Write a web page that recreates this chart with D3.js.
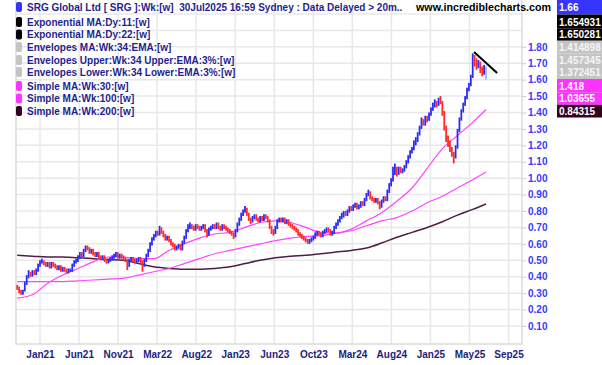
<!DOCTYPE html>
<html>
<head>
<meta charset="utf-8">
<script src="https://cdnjs.cloudflare.com/ajax/libs/d3/7.8.5/d3.min.js"></script>
<style>
  body { margin: 0; background: #fff; }
  svg { display: block; font-family: "Liberation Sans", Arial, sans-serif; font-weight: bold; }
</style>
</head>
<body>
<div id="chart"></div>
<script>
// svg container
var svgWidth = 602;
var svgHeight = 365;

// plot edges
var plotLeft = 16;
var plotRight = 522;
var plotBottom = 344;

// weekly bars, first bar is week of 2 Nov 2020
var firstWeek = "2020-11-02";
var priorClose = 0.34;

var weekClose = [
  0.33, 0.31, 0.30, 0.31, 0.36, 0.40, 0.42, 0.41, 0.43, 0.42,
  0.44, 0.47, 0.49, 0.50, 0.48, 0.47, 0.48, 0.46, 0.48, 0.47,
  0.46, 0.45, 0.46, 0.44, 0.45, 0.44, 0.43, 0.44, 0.44, 0.47,
  0.49, 0.50, 0.52, 0.54, 0.53, 0.56, 0.58, 0.57, 0.55, 0.56,
  0.54, 0.53, 0.54, 0.52, 0.51, 0.52, 0.50, 0.49, 0.50, 0.51,
  0.52, 0.53, 0.54, 0.52, 0.53, 0.52, 0.51, 0.50, 0.47, 0.50,
  0.51, 0.50, 0.49, 0.50, 0.51, 0.49, 0.47, 0.50, 0.53, 0.56,
  0.60, 0.63, 0.65, 0.67, 0.66, 0.69, 0.67, 0.65, 0.63, 0.64,
  0.62, 0.60, 0.59, 0.57, 0.58, 0.59, 0.57, 0.61, 0.64, 0.68,
  0.70, 0.71, 0.70, 0.69, 0.71, 0.70, 0.69, 0.70, 0.71, 0.68,
  0.66, 0.69, 0.70, 0.71, 0.70, 0.72, 0.70, 0.69, 0.71, 0.70,
  0.69, 0.68, 0.67, 0.66, 0.65, 0.68, 0.72, 0.75, 0.78, 0.80,
  0.81, 0.78, 0.75, 0.74, 0.76, 0.77, 0.75, 0.74, 0.76, 0.75,
  0.77, 0.76, 0.74, 0.70, 0.68, 0.67, 0.70, 0.74, 0.75, 0.74,
  0.75, 0.73, 0.74, 0.72, 0.71, 0.70, 0.69, 0.68, 0.66, 0.65,
  0.64, 0.63, 0.62, 0.61, 0.62, 0.63, 0.64, 0.66, 0.67, 0.66,
  0.65, 0.67, 0.68, 0.69, 0.68, 0.66, 0.67, 0.70, 0.72, 0.74,
  0.76, 0.77, 0.79, 0.78, 0.80, 0.82, 0.81, 0.83, 0.84, 0.82,
  0.83, 0.85, 0.84, 0.87, 0.90, 0.91, 0.88, 0.87, 0.86, 0.87,
  0.85, 0.83, 0.86, 0.88, 0.87, 0.92, 0.96, 0.99, 1.04, 1.06,
  1.03, 1.06, 1.04, 1.05, 1.07, 1.10, 1.13, 1.16, 1.18, 1.21,
  1.23, 1.27, 1.31, 1.35, 1.33, 1.37, 1.36, 1.39, 1.42, 1.44,
  1.46, 1.45, 1.48, 1.47, 1.40, 1.31, 1.24, 1.22, 1.18, 1.15,
  1.13, 1.19, 1.29, 1.36, 1.41, 1.45, 1.49, 1.54, 1.57, 1.62,
  1.73, 1.72, 1.69, 1.71, 1.67, 1.65, 1.68, 1.66
];

var weekHigh = [
  0.35, 0.34, 0.32, 0.32, 0.37, 0.41, 0.44, 0.43, 0.44, 0.44,
  0.45, 0.48, 0.50, 0.51, 0.50, 0.49, 0.49, 0.49, 0.49, 0.49,
  0.48, 0.47, 0.47, 0.47, 0.46, 0.46, 0.45, 0.45, 0.45, 0.48,
  0.50, 0.51, 0.53, 0.55, 0.55, 0.57, 0.59, 0.59, 0.58, 0.57,
  0.57, 0.55, 0.55, 0.55, 0.53, 0.53, 0.53, 0.51, 0.51, 0.52,
  0.53, 0.54, 0.55, 0.55, 0.54, 0.54, 0.53, 0.52, 0.51, 0.51,
  0.52, 0.52, 0.51, 0.51, 0.52, 0.52, 0.50, 0.51, 0.54, 0.57,
  0.61, 0.64, 0.66, 0.68, 0.68, 0.71, 0.70, 0.68, 0.66, 0.65,
  0.65, 0.63, 0.61, 0.60, 0.59, 0.60, 0.60, 0.62, 0.65, 0.69,
  0.72, 0.73, 0.72, 0.71, 0.72, 0.72, 0.71, 0.71, 0.72, 0.72,
  0.69, 0.70, 0.71, 0.72, 0.72, 0.73, 0.73, 0.71, 0.72, 0.72,
  0.71, 0.70, 0.69, 0.68, 0.67, 0.69, 0.73, 0.76, 0.79, 0.81,
  0.83, 0.82, 0.79, 0.76, 0.77, 0.78, 0.78, 0.76, 0.77, 0.77,
  0.78, 0.78, 0.77, 0.75, 0.71, 0.69, 0.71, 0.75, 0.76, 0.76,
  0.76, 0.76, 0.75, 0.75, 0.73, 0.72, 0.71, 0.70, 0.69, 0.67,
  0.66, 0.65, 0.64, 0.63, 0.63, 0.64, 0.65, 0.67, 0.68, 0.68,
  0.67, 0.68, 0.69, 0.70, 0.70, 0.69, 0.68, 0.71, 0.73, 0.75,
  0.77, 0.79, 0.80, 0.80, 0.81, 0.83, 0.83, 0.84, 0.85, 0.85,
  0.84, 0.86, 0.86, 0.88, 0.91, 0.93, 0.92, 0.89, 0.88, 0.88,
  0.88, 0.86, 0.87, 0.89, 0.89, 0.93, 0.97, 1.00, 1.07, 1.09,
  1.07, 1.07, 1.07, 1.06, 1.08, 1.11, 1.14, 1.17, 1.19, 1.23,
  1.25, 1.28, 1.32, 1.37, 1.36, 1.38, 1.38, 1.40, 1.43, 1.46,
  1.48, 1.47, 1.49, 1.50, 1.47, 1.41, 1.32, 1.26, 1.23, 1.19,
  1.16, 1.20, 1.30, 1.37, 1.42, 1.46, 1.50, 1.55, 1.58, 1.63,
  1.76, 1.75, 1.73, 1.72, 1.71, 1.68, 1.69, 1.68
];

var weekLow = [
  0.32, 0.30, 0.29, 0.29, 0.31, 0.35, 0.39, 0.40, 0.40, 0.41,
  0.41, 0.43, 0.46, 0.48, 0.47, 0.46, 0.46, 0.45, 0.45, 0.46,
  0.45, 0.44, 0.44, 0.43, 0.43, 0.43, 0.42, 0.42, 0.43, 0.43,
  0.46, 0.48, 0.49, 0.51, 0.52, 0.52, 0.55, 0.56, 0.54, 0.54,
  0.53, 0.52, 0.52, 0.51, 0.50, 0.50, 0.49, 0.48, 0.48, 0.49,
  0.50, 0.51, 0.52, 0.51, 0.51, 0.51, 0.50, 0.49, 0.44, 0.46,
  0.49, 0.49, 0.48, 0.48, 0.49, 0.48, 0.43, 0.46, 0.49, 0.52,
  0.55, 0.59, 0.62, 0.64, 0.65, 0.65, 0.66, 0.64, 0.62, 0.62,
  0.61, 0.59, 0.58, 0.56, 0.56, 0.57, 0.56, 0.56, 0.60, 0.63,
  0.67, 0.69, 0.69, 0.68, 0.68, 0.69, 0.68, 0.68, 0.69, 0.67,
  0.64, 0.65, 0.68, 0.69, 0.69, 0.69, 0.69, 0.68, 0.68, 0.69,
  0.68, 0.67, 0.66, 0.65, 0.63, 0.64, 0.67, 0.71, 0.74, 0.77,
  0.79, 0.77, 0.74, 0.72, 0.73, 0.75, 0.74, 0.73, 0.73, 0.74,
  0.74, 0.75, 0.73, 0.69, 0.66, 0.65, 0.66, 0.69, 0.73, 0.73,
  0.73, 0.72, 0.72, 0.71, 0.70, 0.69, 0.68, 0.67, 0.65, 0.64,
  0.63, 0.62, 0.61, 0.60, 0.60, 0.61, 0.62, 0.63, 0.65, 0.65,
  0.64, 0.64, 0.66, 0.67, 0.67, 0.65, 0.65, 0.66, 0.69, 0.71,
  0.73, 0.75, 0.76, 0.77, 0.77, 0.79, 0.80, 0.80, 0.82, 0.81,
  0.81, 0.82, 0.83, 0.83, 0.86, 0.89, 0.87, 0.86, 0.85, 0.85,
  0.84, 0.81, 0.82, 0.85, 0.86, 0.86, 0.91, 0.95, 0.98, 1.02,
  1.01, 1.02, 1.03, 1.03, 1.04, 1.06, 1.09, 1.12, 1.15, 1.17,
  1.20, 1.22, 1.26, 1.30, 1.32, 1.32, 1.34, 1.35, 1.38, 1.41,
  1.43, 1.43, 1.44, 1.45, 1.38, 1.29, 1.22, 1.19, 1.16, 1.13,
  1.09, 1.12, 1.18, 1.28, 1.35, 1.40, 1.44, 1.48, 1.53, 1.56,
  1.61, 1.68, 1.66, 1.67, 1.64, 1.62, 1.63, 1.60
];

// moving averages (bar number, value)
var maWeek = [0, 8, 16, 24, 32, 40, 48, 56, 64, 72, 80, 88, 96, 104, 112, 120,
  128, 136, 144, 152, 160, 168, 176, 184, 192, 200, 208, 216, 224, 232, 240, 247];
var sma30 = [0.27, 0.29, 0.36, 0.41, 0.45, 0.49, 0.52, 0.52, 0.51, 0.51, 0.56, 0.60,
  0.635, 0.66, 0.67, 0.70, 0.73, 0.74, 0.73, 0.70, 0.67, 0.665, 0.69, 0.74, 0.79,
  0.86, 0.94, 1.06, 1.18, 1.26, 1.34, 1.418];
var sma100 = [0.37, 0.37, 0.37, 0.37, 0.375, 0.38, 0.385, 0.39, 0.41, 0.43, 0.45, 0.48,
  0.51, 0.54, 0.56, 0.58, 0.60, 0.62, 0.635, 0.645, 0.65, 0.665, 0.68, 0.71, 0.74,
  0.76, 0.80, 0.85, 0.89, 0.94, 0.99, 1.037];
var sma200 = [0.53, 0.525, 0.52, 0.52, 0.515, 0.51, 0.505, 0.50, 0.48, 0.46, 0.45, 0.445,
  0.445, 0.45, 0.46, 0.48, 0.50, 0.515, 0.525, 0.53, 0.54, 0.55, 0.56, 0.575, 0.605,
  0.64, 0.67, 0.70, 0.735, 0.775, 0.81, 0.843];

// hand drawn trend line
var trendDates = ["2025-06-14", "2025-09-07"];
var trendValues = [1.769, 1.641];

// axis ticks
var xTickDates = ["2021-01-25", "2021-06-18", "2021-11-09", "2022-04-02", "2022-08-24",
  "2023-01-15", "2023-06-08", "2023-10-30", "2024-03-22", "2024-08-13",
  "2025-01-04", "2025-05-28", "2025-10-19"];
var xTickLabels = ["Jan21", "Jun21", "Nov21", "Mar22", "Aug22", "Jan23", "Jun23",
  "Oct23", "Mar24", "Aug24", "Jan25", "May25", "Sep25"];
var yTickValues = [0.1, 0.2, 0.3, 0.4, 0.5, 0.6, 0.7, 0.8, 0.9, 1.0,
  1.1, 1.2, 1.3, 1.4, 1.5, 1.6, 1.7, 1.8];
var yGridValues = yTickValues.concat([1.9, 2.0]);

// legend rows
var legendNames = [
  "SRG Global Ltd [ SRG ]:Wk:[w]  30Jul2025 16:59 Sydney : Data Delayed > 20m..",
  "Exponential MA:Dy:11:[w]",
  "Exponential MA:Dy:22:[w]",
  "Envelopes MA:Wk:34:EMA:[w]",
  "Envelopes Upper:Wk:34 Upper:EMA:3%:[w]",
  "Envelopes Lower:Wk:34 Lower:EMA:3%:[w]",
  "Simple MA:Wk:30:[w]",
  "Simple MA:Wk:100:[w]",
  "Simple MA:Wk:200:[w]"
];
var legendValues = ["1.66", "1.654931", "1.650281", "1.414898", "1.457345",
  "1.372451", "1.418", "1.03655", "0.84315"];
var legendColors = ["#3535ff", "#000000", "#000000", "#c4c4c4", "#c4c4c4",
  "#c4c4c4", "#ff33ff", "#ff33ff", "#33001f"];

var parseDate = d3.timeParse("%Y-%m-%d");
var week0 = parseDate(firstWeek);
function weekDate(i) {
  return d3.timeDay.offset(week0, i * 7);
}

// scales
var xScale = d3.scaleTime()
  .domain([parseDate("2021-01-25"), parseDate("2025-07-28")])
  .range([40, 486]);

var yScale = d3.scaleLinear()
  .domain([0, 1.8])
  .range([342.4, 46.8]);

var svg = d3.select("#chart")
  .append("svg")
  .attr("width", svgWidth)
  .attr("height", svgHeight);

// grid
var grid = svg.append("g");
grid.selectAll("line.h")
  .data(yGridValues)
  .enter()
  .append("line")
  .attr("class", "h")
  .attr("x1", plotLeft).attr("x2", plotRight)
  .attr("y1", d => yScale(d)).attr("y2", d => yScale(d))
  .attr("stroke", "#e8e8e8").attr("stroke-width", 1.5);

grid.selectAll("line.v")
  .data(xTickDates)
  .enter()
  .append("line")
  .attr("class", "v")
  .attr("x1", d => xScale(parseDate(d))).attr("x2", d => xScale(parseDate(d)))
  .attr("y1", 0).attr("y2", plotBottom)
  .attr("stroke", "#e8e8e8").attr("stroke-width", 1.5);

// plot border
grid.append("path")
  .attr("d", `M${plotLeft},0V${plotBottom}H${plotRight}V0`)
  .attr("fill", "none")
  .attr("stroke", "#dcdcdc")
  .attr("stroke-width", 1.5);

// y axis on the right
var rightAxis = d3.axisRight(yScale)
  .tickValues(yTickValues)
  .tickFormat(d3.format(".2f"))
  .tickSize(4)
  .tickPadding(2);

var yAxis = svg.append("g")
  .attr("transform", `translate(${plotRight}, 0)`)
  .call(rightAxis);
yAxis.select(".domain").remove();
yAxis.selectAll("line").attr("stroke", "#cccccc");
yAxis.selectAll("text")
  .attr("fill", "#3a3aff")
  .style("font-size", "10px")
  .style("font-family", "'Liberation Sans', Arial, sans-serif");

// x axis
var bottomAxis = d3.axisBottom(xScale)
  .tickValues(xTickDates.map(parseDate))
  .tickFormat((d, i) => xTickLabels[i])
  .tickSize(0)
  .tickPadding(7);

var xAxis = svg.append("g")
  .attr("transform", `translate(0, ${plotBottom})`)
  .call(bottomAxis);
xAxis.select(".domain").remove();
xAxis.selectAll("text")
  .attr("fill", "#1d1d80")
  .style("font-size", "10px")
  .style("font-family", "'Liberation Sans', Arial, sans-serif");

// moving average lines
var maLine = d3.line()
  .x(d => xScale(weekDate(d[0])))
  .y(d => yScale(d[1]))
  .curve(d3.curveMonotoneX);

function drawMA(values, color, width) {
  svg.append("path")
    .datum(maWeek.map((w, i) => [w, values[i]]))
    .attr("d", maLine)
    .attr("fill", "none")
    .attr("stroke", color)
    .attr("stroke-width", width);
}
drawMA(sma200, "#4f1d45", 1.5);
drawMA(sma100, "#ff44ff", 1.2);
drawMA(sma30, "#ff44ff", 1.2);

// weekly bars
var bars = weekClose.map((c, i) => ({
  date: weekDate(i),
  high: weekHigh[i],
  low: weekLow[i],
  close: c,
  prev: i === 0 ? priorClose : weekClose[i - 1],
  last: i === weekClose.length - 1
}));

function barColor(d) {
  if (d.last) return "#a9b0ff";
  return d.close >= d.prev ? "#2b2bff" : "#ff2b2b";
}

svg.append("g").selectAll("line")
  .data(bars)
  .enter()
  .append("line")
  .attr("x1", d => xScale(d.date)).attr("x2", d => xScale(d.date))
  .attr("y1", d => yScale(d.high)).attr("y2", d => yScale(d.low))
  .attr("stroke", barColor)
  .attr("stroke-width", 1.8);

// trend line
svg.append("line")
  .attr("x1", xScale(parseDate(trendDates[0])))
  .attr("y1", yScale(trendValues[0]))
  .attr("x2", xScale(parseDate(trendDates[1])))
  .attr("y2", yScale(trendValues[1]))
  .attr("stroke", "#000")
  .attr("stroke-width", 2);

// legend
var rowY = [7, 22, 34.5, 47, 60, 72, 86, 98.5, 111];
var legend = svg.append("g");

legend.selectAll("rect.sw")
  .data(legendColors)
  .enter()
  .append("rect")
  .attr("class", "sw")
  .attr("x", 16).attr("y", (d, i) => rowY[i] - 5)
  .attr("width", 6).attr("height", 10)
  .attr("rx", 2)
  .attr("fill", d => d);

legend.selectAll("text.name")
  .data(legendNames)
  .enter()
  .append("text")
  .attr("class", "name")
  .attr("x", 27).attr("y", (d, i) => rowY[i] + 3.5)
  .attr("fill", "#1f1f8f")
  .style("font-size", "10px")
  .style("white-space", "pre")
  .text(d => d);

svg.append("text")
  .attr("x", 416).attr("y", 11)
  .attr("fill", "#000")
  .style("font-size", "10.7px")
  .text("www.incrediblecharts.com");

// value boxes on the right
legend.selectAll("rect.val")
  .data(legendColors)
  .enter()
  .append("rect")
  .attr("class", "val")
  .attr("x", 557)
  .attr("y", (d, i) => i === 0 ? 0 : (rowY[i - 1] + rowY[i]) / 2)
  .attr("width", 45)
  .attr("height", (d, i) => {
    var top = i === 0 ? 0 : (rowY[i - 1] + rowY[i]) / 2;
    var bottom = i === rowY.length - 1 ? rowY[i] + 6.5 : (rowY[i] + rowY[i + 1]) / 2;
    return bottom - top;
  })
  .attr("fill", d => d);

legend.selectAll("text.val")
  .data(legendValues)
  .enter()
  .append("text")
  .attr("class", "val")
  .attr("x", 559).attr("y", (d, i) => rowY[i] + 3.5)
  .attr("fill", (d, i) => legendColors[i] === "#c4c4c4" ? "#f6f6f6" : "#ffffff")
  .style("font-size", "10px")
  .text(d => d);
</script>
</body>
</html>
